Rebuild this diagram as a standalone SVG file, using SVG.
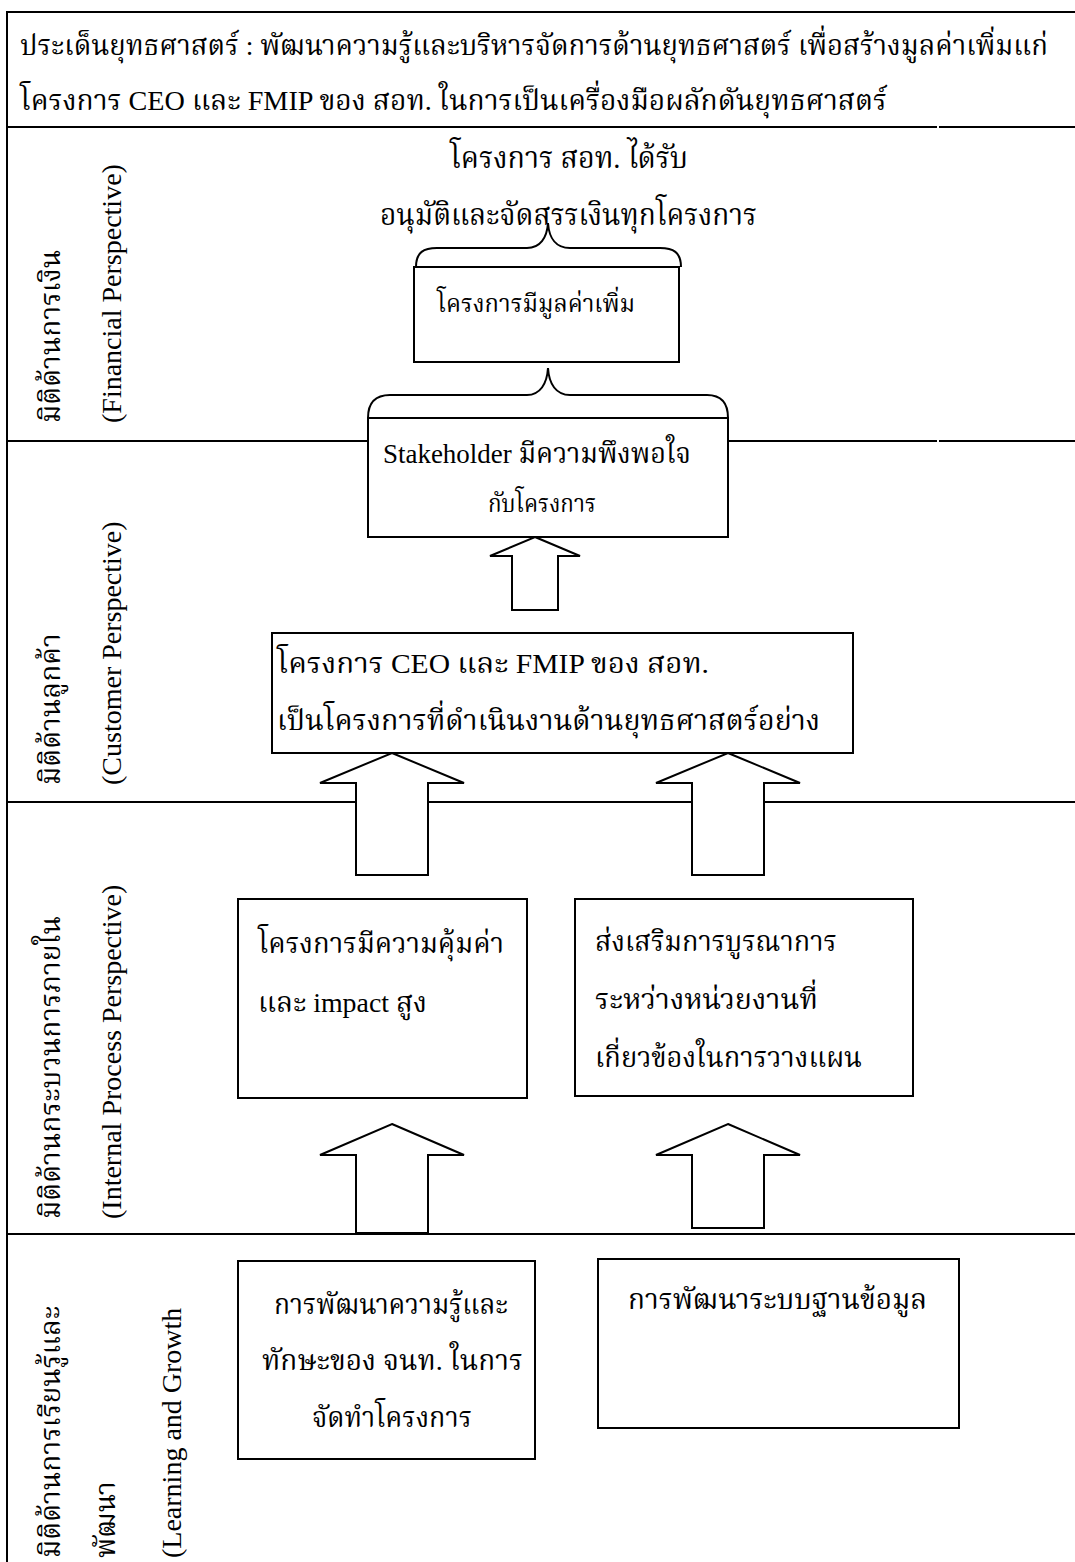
<svg xmlns="http://www.w3.org/2000/svg" width="1075" height="1562" viewBox="0 0 1075 1562">
<style>
text{font-family:"Liberation Serif","Norasi","Kinnari","Noto Serif Thai","Noto Sans Thai",serif;fill:#000}
.h{font-size:28px}
.lab{font-size:28px}
.b{font-size:28px}
.t{font-size:30px}
.s{font-size:24px}
.ln{stroke:#000;stroke-width:2;fill:none}
.box{fill:#fff;stroke:#000;stroke-width:2}
.arr{fill:#fff;stroke:#000;stroke-width:2;stroke-linejoin:miter}
.br{fill:none;stroke:#000;stroke-width:2}
</style>
<rect width="1075" height="1562" fill="#fff"/>
<g id="table">
<line class="ln" x1="7" y1="12" x2="1075" y2="12"/>
<line class="ln" x1="7" y1="11" x2="7" y2="1562"/>
<line class="ln" x1="7" y1="127" x2="937" y2="127"/>
<line class="ln" x1="939" y1="127" x2="1075" y2="127"/>
<line class="ln" x1="7" y1="441" x2="937" y2="441"/>
<line class="ln" x1="939" y1="441" x2="1075" y2="441"/>
<line class="ln" x1="7" y1="802" x2="1075" y2="802"/>
<line class="ln" x1="7" y1="1234" x2="1075" y2="1234"/>
</g>
<g id="header">
<text class="h" x="20" y="55" textLength="1028" lengthAdjust="spacingAndGlyphs">ประเด็นยุทธศาสตร์ : พัฒนาความรู้และบริหารจัดการด้านยุทธศาสตร์ เพื่อสร้างมูลค่าเพิ่มแก่</text>
<text class="h" x="20" y="110" textLength="867" lengthAdjust="spacingAndGlyphs">โครงการ CEO และ FMIP ของ สอท. ในการเป็นเครื่องมือผลักดันยุทธศาสตร์</text>
</g>
<g id="labels">
<text class="lab" transform="translate(60,423) rotate(-90)">มิติด้านการเงิน</text>
<text class="lab" transform="translate(121,423) rotate(-90)">(Financial Perspective)</text>
<text class="lab" transform="translate(60,785) rotate(-90)">มิติด้านลูกค้า</text>
<text class="lab" transform="translate(121,785) rotate(-90)">(Customer Perspective)</text>
<text class="lab" transform="translate(60,1219) rotate(-90)">มิติด้านกระบวนการภายใน</text>
<text class="lab" transform="translate(121,1219) rotate(-90)">(Internal Process Perspective)</text>
<text class="lab" transform="translate(60,1558) rotate(-90)">มิติด้านการเรียนรู้และ</text>
<text class="lab" transform="translate(115,1558) rotate(-90)">พัฒนา</text>
<text class="lab" transform="translate(181,1558) rotate(-90)">(Learning and Growth</text>
</g>
<g id="connectors">
<path class="br" d="M416,267 C416,252 424,248 437,248 L527,248 C540,248 547,238 548,223 C549,238 556,248 570,248 L660,248 C673,248 681,252 681,267"/>
<path class="br" d="M368,418 C368,402 376,395 390,395 L527,395 C540,395 547,384 548,368 C549,384 556,395 570,395 L707,395 C720,395 728,402 728,418"/>
<polygon class="arr" points="535,537 580,556 558,556 558,610 512,610 512,556 490,556"/>
<polygon class="arr" points="392,753 464,783 428,783 428,875 356,875 356,783 320,783"/>
<polygon class="arr" points="728,753 800,783 764,783 764,875 692,875 692,783 656,783"/>
<polygon class="arr" points="392,1124 464,1155 428,1155 428,1233 356,1233 356,1155 320,1155"/>
<polygon class="arr" points="728,1124 800,1155 764,1155 764,1228 692,1228 692,1155 656,1155"/>
</g>
<g id="n-financial-top">
<text class="t" x="450" y="168" textLength="238" lengthAdjust="spacingAndGlyphs">โครงการ สอท. ได้รับ</text>
<text class="t" x="380" y="225" textLength="377" lengthAdjust="spacingAndGlyphs">อนุมัติและจัดสรรเงินทุกโครงการ</text>
</g>
<g id="n-value">
<rect class="box" x="414" y="267" width="265" height="95"/>
<text class="s" x="437" y="312" textLength="198" lengthAdjust="spacingAndGlyphs">โครงการมีมูลค่าเพิ่ม</text>
</g>
<g id="n-stakeholder">
<rect class="box" x="368" y="418" width="360" height="119"/>
<text class="b" x="383" y="463" textLength="308" lengthAdjust="spacingAndGlyphs">Stakeholder มีความพึงพอใจ</text>
<text class="s" x="488" y="512" textLength="108" lengthAdjust="spacingAndGlyphs">กับโครงการ</text>
</g>
<g id="n-customer">
<rect class="box" x="272" y="633" width="581" height="120"/>
<text class="b" x="277" y="673" textLength="432" lengthAdjust="spacingAndGlyphs">โครงการ CEO และ FMIP ของ สอท.</text>
<text class="b" x="277" y="730" textLength="543" lengthAdjust="spacingAndGlyphs">เป็นโครงการที่ดำเนินงานด้านยุทธศาสตร์อย่าง</text>
</g>
<g id="n-value-impact">
<rect class="box" x="238" y="899" width="289" height="199"/>
<text class="b" x="258" y="953" textLength="246" lengthAdjust="spacingAndGlyphs">โครงการมีความคุ้มค่า</text>
<text class="b" x="258" y="1012" textLength="169" lengthAdjust="spacingAndGlyphs">และ impact สูง</text>
</g>
<g id="n-integration">
<rect class="box" x="575" y="899" width="338" height="197"/>
<text class="b" x="595" y="951" textLength="242" lengthAdjust="spacingAndGlyphs">ส่งเสริมการบูรณาการ</text>
<text class="b" x="595" y="1009" textLength="223" lengthAdjust="spacingAndGlyphs">ระหว่างหน่วยงานที่</text>
<text class="b" x="595" y="1067" textLength="267" lengthAdjust="spacingAndGlyphs">เกี่ยวข้องในการวางแผน</text>
</g>
<g id="n-staff">
<rect class="box" x="238" y="1261" width="297" height="198"/>
<text class="b" x="274" y="1314" textLength="234" lengthAdjust="spacingAndGlyphs">การพัฒนาความรู้และ</text>
<text class="b" x="262" y="1370" textLength="261" lengthAdjust="spacingAndGlyphs">ทักษะของ จนท. ในการ</text>
<text class="b" x="312" y="1427" textLength="160" lengthAdjust="spacingAndGlyphs">จัดทำโครงการ</text>
</g>
<g id="n-database">
<rect class="box" x="598" y="1259" width="361" height="169"/>
<text class="b" x="628" y="1309" textLength="299" lengthAdjust="spacingAndGlyphs">การพัฒนาระบบฐานข้อมูล</text>
</g>
</svg>
